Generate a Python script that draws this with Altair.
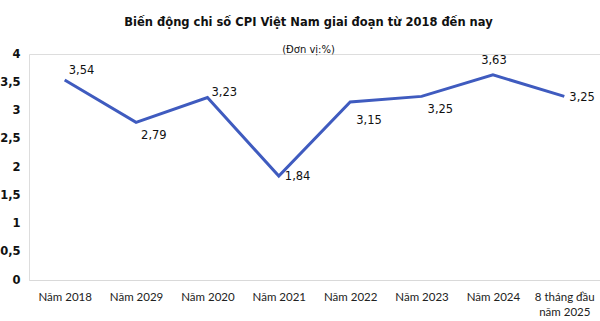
import altair as alt
import pandas as pd

categories = ["Năm 2018", "Năm 2029", "Năm 2020", "Năm 2021", "Năm 2022",
              "Năm 2023", "Năm 2024", "8 tháng đầu năm 2025"]
cpi = [3.54, 2.79, 3.23, 1.84, 3.15, 3.25, 3.63, 3.25]
y_ticks = [0, 0.5, 1, 1.5, 2, 2.5, 3, 3.5, 4]

df = pd.DataFrame({"cat": categories, "v": cpi})

x = alt.X("cat:N", sort=categories, title=None,
          scale=alt.Scale(padding=0.5),
          axis=alt.Axis(labelAngle=0, ticks=False, domainColor="#D9D9D9",
                        domainWidth=1, labelPadding=11, labelFontSize=11.5,
                        labelFont="Lato", labelColor="#222222", labelLimit=200,
                        labelExpr="datum.label == '8 tháng đầu năm 2025' ? ['8 tháng đầu', 'năm 2025'] : datum.label",
                        labelLineHeight=15))
y = alt.Y("v:Q", title=None,
          scale=alt.Scale(domain=[0, 4], nice=False, zero=True),
          axis=alt.Axis(values=y_ticks, format=".1~f",
                        labelExpr="replace(datum.label, '.', ',')",
                        grid=False, domain=False, ticks=False, labelPadding=9,
                        labelFontWeight="bold", labelFontSize=11.5,
                        labelFont="DejaVu Sans", labelColor="#111111"))

base = alt.Chart(df).encode(x=x, y=y)

line = base.mark_line(color="#3F5BBF", strokeWidth=3)

lab = base.transform_calculate(
    lbl="replace(format(datum.v, '.2f'), '.', ',')"
)

def txt(cats, **kw):
    return lab.transform_filter(
        alt.FieldOneOfPredicate(field="cat", oneOf=cats)
    ).mark_text(font="DejaVu Sans", fontSize=11.5, color="#111111", **kw).encode(
        text="lbl:N")

t1 = txt(["Năm 2018"], align="left", dx=4, dy=-9)
t2 = txt(["Năm 2029"], align="left", dx=5, dy=14)
t3 = txt(["Năm 2020"], align="left", dx=4, dy=-5)
t4 = txt(["Năm 2021"], align="left", dx=6, dy=1)
t5 = txt(["Năm 2022"], align="left", dx=6, dy=19)
t6 = txt(["Năm 2023"], align="left", dx=6, dy=14)
t7 = txt(["Năm 2024"], align="center", dx=1, dy=-14)
t8 = txt(["8 tháng đầu năm 2025"], align="left", dx=5, dy=2)

chart = alt.layer(line, t1, t2, t3, t4, t5, t6, t7, t8).properties(
    width=571, height=226,
    autosize=alt.AutoSizeParams(type="none"),
    padding={"left": 29, "top": 54, "right": 0, "bottom": 41},
    title=alt.TitleParams(
        text="Biến động chi số CPI Việt Nam giai đoạn từ 2018 đến nay",
        subtitle="(Đơn vị:%)",
        font="DejaVu Sans", fontSize=11.5, fontWeight="bold", color="#111111",
        subtitleFont="DejaVu Sans", subtitleFontSize=10, subtitleColor="#111111",
        subtitlePadding=17, anchor="middle", dx=-6, offset=-7,
    ),
).configure_view(stroke=None).configure(background="white")

chart.save("out.html", embed_options={"renderer": "svg", "actions": False})
